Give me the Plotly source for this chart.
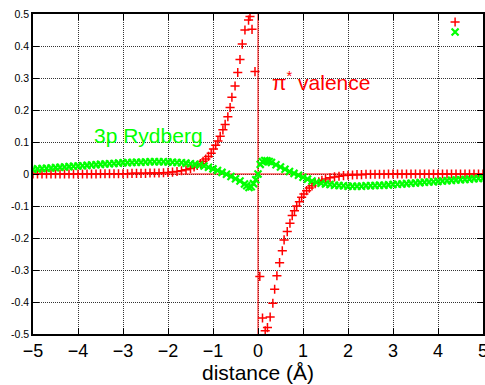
import plotly.graph_objects as go

# pi* valence (red +)
pi_x = [-5.0, -4.9, -4.8, -4.7, -4.6, -4.5, -4.4, -4.3, -4.2, -4.1, -4.0, -3.9, -3.8, -3.7, -3.6,
        -3.5, -3.4, -3.3, -3.2, -3.1, -3.0, -2.9, -2.8, -2.7, -2.6, -2.5, -2.4, -2.3, -2.2, -2.1,
        -2.0, -1.9, -1.8, -1.7, -1.6, -1.5, -1.42, -1.35, -1.28, -1.22, -1.16, -1.1, -1.04, -0.99,
        -0.94, -0.89, -0.84, -0.78, -0.73, -0.67, -0.62, -0.58, -0.51, -0.45, -0.40, -0.35, -0.29,
        -0.21, -0.178, -0.133, -0.067,
        0.04, 0.10, 0.16, 0.21, 0.27, 0.33, 0.37, 0.42, 0.48, 0.54, 0.58, 0.65, 0.71, 0.76, 0.81,
        0.86, 0.92, 0.97, 1.02, 1.08, 1.14, 1.2, 1.27, 1.35, 1.42, 1.5, 1.6, 1.7, 1.8, 1.9, 2.0,
        2.1, 2.2, 2.3, 2.4, 2.5, 2.6, 2.7, 2.8, 2.9, 3.0, 3.1, 3.2, 3.3, 3.4, 3.5, 3.6, 3.7, 3.8,
        3.9, 4.0, 4.1, 4.2, 4.3, 4.4, 4.5, 4.6, 4.7, 4.8, 4.9, 5.0]
pi_y = [0.000, 0.000, 0.000, 0.000, 0.000, 0.000, 0.000, 0.000, 0.000, 0.000, 0.000, 0.000, 0.000,
        0.000, 0.000, 0.001, 0.001, 0.001, 0.001, 0.001, 0.001, 0.001, 0.002, 0.002, 0.002, 0.002,
        0.003, 0.003, 0.003, 0.004, 0.005, 0.006, 0.008, 0.010, 0.013, 0.017, 0.022, 0.027, 0.033,
        0.040, 0.047, 0.055, 0.065, 0.078, 0.090, 0.103, 0.118, 0.138, 0.155, 0.179, 0.208, 0.240,
        0.275, 0.317, 0.358, 0.406, 0.450, 0.481, 0.492, 0.452, 0.320,
        -0.320, -0.450, -0.490, -0.480, -0.447, -0.404, -0.360, -0.318, -0.277, -0.240, -0.206,
        -0.180, -0.154, -0.130, -0.115, -0.100, -0.087, -0.073, -0.0625, -0.052, -0.044, -0.037,
        -0.030, -0.024, -0.020, -0.016, -0.012, -0.009, -0.007, -0.005, -0.004, -0.003, -0.002,
        -0.002, -0.001, -0.001, -0.001, -0.001, -0.001, 0.000, 0.000, 0.000, 0.000, 0.000, 0.000,
        0.000, 0.000, 0.000, 0.000, 0.000, 0.000, 0.000, 0.000, 0.000, 0.000, 0.000, 0.000, 0.000,
        0.000, 0.000, 0.000]

# 3p Rydberg (green x)
ry_x = [-5.0, -4.9, -4.8, -4.7, -4.6, -4.5, -4.4, -4.3, -4.2, -4.1, -4.0, -3.9, -3.8, -3.7, -3.6,
        -3.5, -3.4, -3.3, -3.2, -3.1, -3.0, -2.9, -2.8, -2.7, -2.6, -2.5, -2.4, -2.3, -2.2, -2.1,
        -2.0, -1.9, -1.8, -1.7, -1.6, -1.5, -1.4, -1.3, -1.2, -1.1, -1.0, -0.9, -0.8, -0.7, -0.6,
        -0.5, -0.4, -0.3, -0.25, -0.2, -0.15, -0.1, -0.05, 0.0, 0.05, 0.1, 0.15, 0.2, 0.25, 0.3,
        0.4, 0.5, 0.6, 0.7, 0.8, 0.9, 1.0, 1.1, 1.2, 1.3, 1.4, 1.5, 1.6, 1.7, 1.8, 1.9, 2.0, 2.1,
        2.2, 2.3, 2.4, 2.5, 2.6, 2.7, 2.8, 2.9, 3.0, 3.1, 3.2, 3.3, 3.4, 3.5, 3.6, 3.7, 3.8, 3.9,
        4.0, 4.1, 4.2, 4.3, 4.4, 4.5, 4.6, 4.7, 4.8, 4.9, 5.0]
ry_y = [0.015, 0.016, 0.017, 0.018, 0.019, 0.020, 0.021, 0.022, 0.023, 0.024, 0.025, 0.026, 0.027,
        0.028, 0.029, 0.030, 0.031, 0.032, 0.033, 0.034, 0.035, 0.0355, 0.036, 0.0365, 0.037,
        0.0375, 0.038, 0.038, 0.038, 0.038, 0.0375, 0.037, 0.036, 0.035, 0.034, 0.032, 0.030,
        0.028, 0.025, 0.021, 0.016, 0.011, 0.005, -0.001, -0.008, -0.015, -0.022, -0.031, -0.037,
        -0.042, -0.040, -0.030, -0.018, 0.000, 0.030, 0.038, 0.042, 0.041, 0.039, 0.036, 0.029,
        0.022, 0.015, 0.008, 0.002, -0.004, -0.010, -0.016, -0.022, -0.026, -0.029, -0.031,
        -0.033, -0.035, -0.036, -0.037, -0.038, -0.038, -0.038, -0.038, -0.037, -0.037, -0.036,
        -0.035, -0.035, -0.034, -0.033, -0.032, -0.031, -0.030, -0.029, -0.028, -0.027, -0.026,
        -0.025, -0.024, -0.023, -0.022, -0.021, -0.020, -0.019, -0.018, -0.017, -0.016, -0.015,
        -0.014, -0.0135]

x_ticks = [-5, -4, -3, -2, -1, 0, 1, 2, 3, 4, 5]
y_ticks = [-0.5, -0.4, -0.3, -0.2, -0.1, 0, 0.1, 0.2, 0.3, 0.4, 0.5]
y_tick_text = ["-0.5", "-0.4", "-0.3", "-0.2", "-0.1", "0", "0.1", "0.2", "0.3", "0.4", "0.5"]

RED = "#ff0000"
GREEN = "#00ff00"
FONT = "Liberation Sans, Arial, sans-serif"

red_marker = dict(symbol="cross-thin", size=6.5, color=RED, line=dict(color=RED, width=1.5))
green_marker = dict(symbol="x-thin", size=7, color=GREEN, line=dict(color=GREEN, width=2.2))

fig = go.Figure()
fig.add_trace(go.Scatter(x=pi_x, y=pi_y, mode="markers", marker=red_marker,
                         showlegend=False, name="π* valence"))
fig.add_trace(go.Scatter(x=ry_x, y=ry_y, mode="markers", marker=green_marker,
                         showlegend=False, name="3p Rydberg"))

# key symbols (top-right, no text), drawn on an overlay axis spanning the plot area
fig.add_trace(go.Scatter(x=[0.938], y=[0.975], mode="markers", marker=red_marker,
                         xaxis="x2", yaxis="y2", showlegend=False, hoverinfo="skip"))
fig.add_trace(go.Scatter(x=[0.938], y=[0.944], mode="markers", marker=green_marker,
                         xaxis="x2", yaxis="y2", showlegend=False, hoverinfo="skip"))

# zero axes (red)
fig.add_shape(type="line", xref="x", yref="y", x0=-5, x1=5, y0=0, y1=0,
              line=dict(color=RED, width=1), layer="between")
fig.add_shape(type="line", xref="x", yref="y", x0=0, x1=0, y0=-0.5, y1=0.5,
              line=dict(color=RED, width=1), layer="between")

fig.add_annotation(x=0.26, y=0.292, xref="x", yref="y", xanchor="left", yanchor="middle",
                   text="π<sup>*</sup> valence", showarrow=False,
                   font=dict(family=FONT, size=21, color=RED))
fig.add_annotation(x=-3.7, y=0.12, xref="x", yref="y", xanchor="left", yanchor="middle",
                   text="3p Rydberg", showarrow=False,
                   font=dict(family=FONT, size=21, color=GREEN))

fig.update_layout(
    width=485, height=385,
    margin=dict(l=33, r=2, t=14, b=51),
    paper_bgcolor="white", plot_bgcolor="white",
    font=dict(family=FONT, color="black"),
    showlegend=False,
    xaxis=dict(range=[-5, 5], tickvals=x_ticks, ticks="inside", ticklen=6, tickcolor="black",
               showline=True, linecolor="black", linewidth=1.5, mirror="ticks",
               showgrid=True, gridcolor="#333", griddash="1px,1px", gridwidth=1,
               zeroline=False, tickfont=dict(size=18, color="black"), automargin=False,
               ticklabeloverflow="allow",
               title=dict(text="distance (Å)", font=dict(size=21, color="black"), standoff=4)),
    yaxis=dict(range=[-0.5, 0.5], tickvals=y_ticks, ticktext=y_tick_text, ticks="inside",
               ticklen=6, tickcolor="black", automargin=False,
               showline=True, linecolor="black", linewidth=1.5, mirror="ticks",
               showgrid=True, gridcolor="#333", griddash="1px,1px", gridwidth=1,
               zeroline=False, tickfont=dict(size=10.5, color="black")),
    xaxis2=dict(overlaying="x", range=[0, 1], visible=False, fixedrange=True),
    yaxis2=dict(overlaying="y", range=[0, 1], visible=False, fixedrange=True),
)

fig.write_html("out.html", config={"displayModeBar": False},
               post_script="document.body.style.margin='0';")
